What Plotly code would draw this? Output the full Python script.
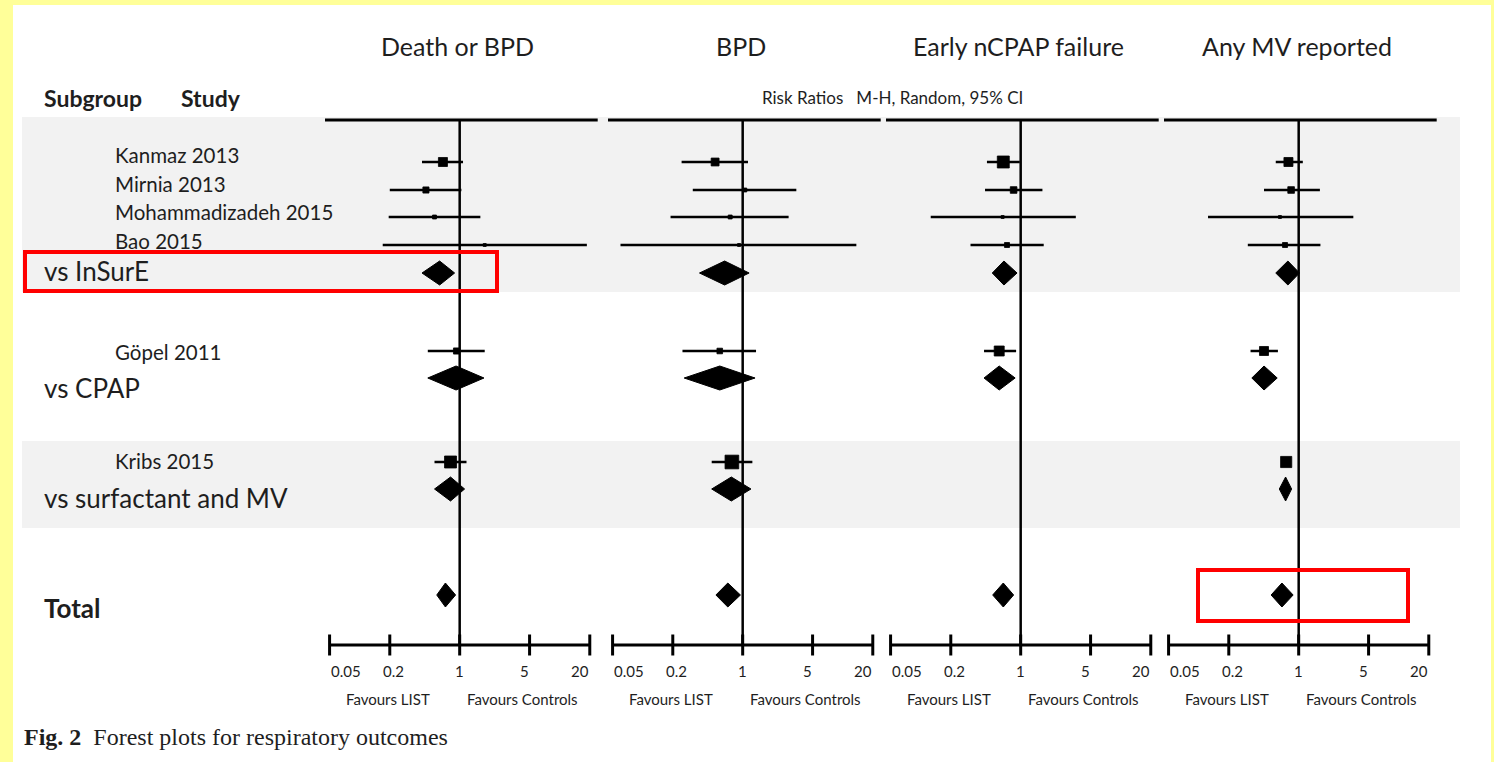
import math
import plotly.graph_objects as go

# ---------------- data ----------------
outcomes = ["Death or BPD", "BPD", "Early nCPAP failure", "Any MV reported"]
studies = ["Kanmaz 2013", "Mirnia 2013", "Mohammadizadeh 2015", "Bao 2015", "Göpel 2011", "Kribs 2015"]
subgroups = ["vs InSurE", "vs CPAP", "vs surfactant and MV", "Total"]
tick_values = [0.05, 0.2, 1, 5, 20]
tick_labels = ["0.05", "0.2", "1", "5", "20"]

# Death or BPD
death_bpd_rr = [0.68, 0.46, 0.56, 1.78, 0.93, 0.81]
death_bpd_lo = [0.42, 0.20, 0.195, 0.17, 0.48, 0.56]
death_bpd_hi = [1.08, 1.04, 1.61, 18.7, 1.78, 1.17]
death_bpd_wt = [13, 6, 2.5, 1.4, 6, 23]
death_bpd_sub_rr = [0.63, 0.92, 0.81, 0.72]
death_bpd_sub_lo = [0.42, 0.48, 0.56, 0.59]
death_bpd_sub_hi = [0.89, 1.75, 1.12, 0.91]

# BPD
bpd_rr = [0.53, 1.05, 0.75, 0.92, 0.59, 0.78]
bpd_lo = [0.245, 0.317, 0.19, 0.06, 0.25, 0.49]
bpd_hi = [1.13, 3.44, 2.88, 13.7, 1.36, 1.25]
bpd_wt = [10, 2.5, 2.5, 1.4, 5, 30]
bpd_sub_rr = [0.66, 0.59, 0.77, 0.71]
bpd_sub_lo = [0.37, 0.26, 0.49, 0.54]
bpd_sub_hi = [1.16, 1.33, 1.21, 0.95]

# Early nCPAP failure
ncpap_rr = [0.67, 0.85, 0.66, 0.73, 0.61, None]
ncpap_lo = [0.46, 0.44, 0.126, 0.315, 0.43, None]
ncpap_hi = [0.98, 1.65, 3.56, 1.70, 0.90, None]
ncpap_wt = [23, 7, 1.4, 4, 16, None]
ncpap_sub_rr = [0.68, 0.61, None, 0.67]
ncpap_sub_lo = [0.52, 0.43, None, 0.525]
ncpap_sub_hi = [0.92, 0.88, None, 0.85]

# Any MV reported
mv_rr = [0.79, 0.84, 0.65, 0.73, 0.45, 0.75]
mv_lo = [0.59, 0.45, 0.124, 0.31, 0.33, 0.70]
mv_hi = [1.10, 1.63, 3.52, 1.65, 0.62, 0.80]
mv_wt = [13, 7, 1.4, 4, 13, 20]
mv_sub_rr = [0.78, 0.45, 0.74, 0.68]
mv_sub_lo = [0.59, 0.34, 0.64, 0.53]
mv_sub_hi = [1.02, 0.61, 0.85, 0.88]

panels = [
    (death_bpd_rr, death_bpd_lo, death_bpd_hi, death_bpd_wt, death_bpd_sub_rr, death_bpd_sub_lo, death_bpd_sub_hi),
    (bpd_rr, bpd_lo, bpd_hi, bpd_wt, bpd_sub_rr, bpd_sub_lo, bpd_sub_hi),
    (ncpap_rr, ncpap_lo, ncpap_hi, ncpap_wt, ncpap_sub_rr, ncpap_sub_lo, ncpap_sub_hi),
    (mv_rr, mv_lo, mv_hi, mv_wt, mv_sub_rr, mv_sub_lo, mv_sub_hi),
]

# ---------------- layout constants (page pixel units) ----------------
W, H = 1494, 762
study_row_y = [162, 190, 217, 245, 351, 462]
study_label_y = [155, 184, 212, 241, 352, 461]
sub_row_y = [273, 378, 489, 595]
sub_label_y = [271, 388, 498, 608]
TOP_Y, AXIS_Y = 120, 645
TICKLABEL_Y, FAVOURS_Y = 671, 699
DIAMOND_HALF = 12
X_RANGE = [0.045, 24]
PX_PER_DECADE = 100
panel_left = [325, 608, 886, 1164]
panel_width = (math.log10(X_RANGE[1]) - math.log10(X_RANGE[0])) * PX_PER_DECADE
tick_anchor = ["left", "center", "center", "center", "right"]
tick_shift = [-1, 4, 0, -5, 1]
FONT = "Lato"
TXT = "#1e1e1e"

fig = go.Figure()

for i, (rr, lo, hi, wt, srr, slo, shi) in enumerate(panels):
    xa = "x" if i == 0 else f"x{i+1}"
    # axis baseline (0.05 .. 20) and crossing ticks
    fig.add_trace(go.Scatter(x=[tick_values[0], tick_values[-1]], y=[AXIS_Y, AXIS_Y], mode="lines",
                             line=dict(color="black", width=3), xaxis=xa, yaxis="y", hoverinfo="skip"))
    fig.add_trace(go.Scatter(x=tick_values, y=[AXIS_Y] * len(tick_values), mode="markers",
                             marker=dict(symbol="line-ns", size=15, line=dict(color="black", width=3)),
                             xaxis=xa, yaxis="y", cliponaxis=False, hoverinfo="skip"))
    # line of no effect
    fig.add_trace(go.Scatter(x=[1, 1], y=[TOP_Y, AXIS_Y], mode="lines",
                             line=dict(color="black", width=2.5), xaxis=xa, yaxis="y", hoverinfo="skip"))
    # study squares with CI
    xs, ys, ep, em, sz = [], [], [], [], []
    for k in range(len(studies)):
        if rr[k] is None:
            continue
        xs.append(rr[k]); ys.append(study_row_y[k])
        ep.append(hi[k] - rr[k]); em.append(rr[k] - lo[k])
        sz.append(2.5 * math.sqrt(wt[k]))
    fig.add_trace(go.Scatter(x=xs, y=ys, mode="markers",
                             marker=dict(symbol="square", size=sz, color="black", opacity=1,
                                         line=dict(width=0.8, color="black")),
                             error_x=dict(type="data", symmetric=False, array=ep, arrayminus=em,
                                          width=0, thickness=2.5, color="black"),
                             xaxis=xa, yaxis="y", cliponaxis=False, hoverinfo="skip"))
    # pooled diamonds
    for k in range(len(subgroups)):
        if srr[k] is None:
            continue
        r = sub_row_y[k]
        fig.add_trace(go.Scatter(x=[slo[k], srr[k], shi[k], srr[k], slo[k]],
                                 y=[r, r - DIAMOND_HALF, r, r + DIAMOND_HALF, r],
                                 mode="lines", fill="toself", fillcolor="black",
                                 line=dict(color="black", width=1), xaxis=xa, yaxis="y", hoverinfo="skip"))

layout_axes = {}
for i in range(4):
    key = "xaxis" if i == 0 else f"xaxis{i+1}"
    layout_axes[key] = dict(
        type="log", domain=[panel_left[i] / W, (panel_left[i] + panel_width) / W],
        range=[math.log10(X_RANGE[0]), math.log10(X_RANGE[1])],
        anchor="free", position=1 - AXIS_Y / H,
        tickvals=tick_values, showticklabels=False, ticks="",
        showline=False, showgrid=False, zeroline=False, fixedrange=True,
    )

shapes = [
    dict(type="rect", xref="paper", yref="y", x0=13 / W, x1=1491 / W, y0=5, y1=H,
         fillcolor="white", line=dict(width=0), layer="below"),
    dict(type="rect", xref="paper", yref="y", x0=22 / W, x1=1460 / W, y0=117, y1=292,
         fillcolor="#F2F2F2", line=dict(width=0), layer="below"),
    dict(type="rect", xref="paper", yref="y", x0=22 / W, x1=1460 / W, y0=441, y1=528,
         fillcolor="#F2F2F2", line=dict(width=0), layer="below"),
]
for i in range(4):
    xr = "x domain" if i == 0 else f"x{i+1} domain"
    shapes.append(dict(type="line", xref=xr, yref="y", x0=0, x1=1, y0=TOP_Y, y1=TOP_Y,
                       line=dict(color="black", width=3)))
# red highlight boxes
shapes.append(dict(type="rect", xref="paper", yref="y", x0=25 / W, x1=497 / W, y0=252, y1=291,
                   line=dict(color="#FF0000", width=4)))
shapes.append(dict(type="rect", xref="paper", yref="y", x0=1198 / W, x1=1408 / W, y0=570, y1=621,
                   line=dict(color="#FF0000", width=4)))

ann = []
def text(x, y, s, size, xanchor="left", bold=False, family=FONT, xref="paper", xshift=0):
    ann.append(dict(x=x, y=y, xref=xref, yref="y", text=(f"<b>{s}</b>" if bold else s),
                    showarrow=False, xanchor=xanchor, yanchor="middle", xshift=xshift,
                    font=dict(family=family, size=size, color=TXT)))

for i, name in enumerate(outcomes):
    xa = "x" if i == 0 else f"x{i+1}"
    text(0, 46, name, 25, xanchor="center", xref=xa, xshift=-2)
    for tv, tl, anc, sh in zip(tick_values, tick_labels, tick_anchor, tick_shift):
        text(math.log10(tv), TICKLABEL_Y, tl, 15, xanchor=anc, xref=xa, xshift=sh)
    text(math.log10(0.19), FAVOURS_Y, "Favours LIST", 15, xanchor="center", xref=xa)
    text(math.log10(4.2), FAVOURS_Y, "Favours Controls", 15, xanchor="center", xref=xa)

text(42 / W, 98, "Subgroup", 23, bold=True)
text(179 / W, 98, "Study", 23, bold=True)
text(760 / W, 97, "Risk Ratios&nbsp;&nbsp;&nbsp;M-H, Random, 95% CI", 17)
for k, s in enumerate(studies):
    text(113 / W, study_label_y[k], s, 20.5)
for k, s in enumerate(subgroups):
    text(42 / W, sub_label_y[k], s, 26, bold=(s == "Total"))
text(22 / W, 737, "<b>Fig. 2</b>&nbsp;&nbsp;Forest plots for respiratory outcomes", 24,
     family="Liberation Serif")

fig.update_layout(
    width=W, height=H, autosize=False,
    margin=dict(l=0, r=0, t=0, b=0),
    paper_bgcolor="#FFFF99", plot_bgcolor="rgba(0,0,0,0)",
    showlegend=False,
    yaxis=dict(domain=[0, 1], range=[H, 0], visible=False, fixedrange=True),
    shapes=shapes, annotations=ann,
    **layout_axes,
)

fig.write_html("out.html", config={"displayModeBar": False},
               post_script="document.body.style.margin='0';document.body.style.background='#FFFF99';")
